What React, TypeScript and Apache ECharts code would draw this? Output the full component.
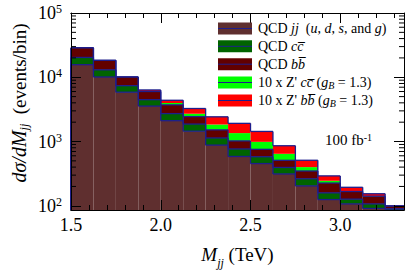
import React, { useEffect, useRef } from 'react';
import * as echarts from 'echarts';

// ---- data ----
const binEdges = [1.5, 1.625, 1.75, 1.875, 2.0, 2.125, 2.25, 2.375, 2.5, 2.625, 2.75, 2.875, 3.0, 3.125, 3.25, 3.375];
const qcdJJ = [15700, 10100, 5860, 3560, 2110, 1450, 880, 586, 454, 313, 204, 125, 107, 91, 84];
const qcdCC = [4650, 2950, 1540, 920, 610, 420, 257, 180, 126, 82, 59, 34, 20, 16, 6];
const qcdBB = [8500, 5270, 2730, 1525, 1000, 575, 382, 257, 176, 115, 85, 67, 40, 34, 9];
const zpCC = [0, 0, 0, 80, 270, 270, 315, 330, 233, 134, 52, 19, 3, 1, 0];
const zpBB = [0, 0, 0, 265, 395, 550, 590, 565, 447, 216, 111, 47, 24, 12, 1];
const yMinorTicks = [200, 300, 400, 500, 600, 700, 800, 900, 2000, 3000, 4000, 5000, 6000, 7000, 8000, 9000, 20000, 30000, 40000, 50000, 60000, 70000, 80000, 90000];

const X_MIN = 1.5;
const X_MAX = 3.355;
const Y_MIN = 86;
const Y_MAX = 100000;

const FONT = 'Liberation Serif';
const NAVY = '#1e1e8c';
const COLORS = ['#5f2f2f', '#006400', '#620000', '#00ff00', '#ff0000'];

const cumulative = (i: number) => {
  const v = [qcdJJ[i], qcdCC[i], qcdBB[i], zpCC[i], zpBB[i]];
  const out: number[] = [];
  let s = 0;
  for (const x of v) { s += x; out.push(s); }
  return out;
};

export default function App() {
  const ref = useRef<HTMLDivElement>(null);
  useEffect(() => {
    if (!ref.current) return;
    const chart = echarts.init(ref.current, null, { renderer: 'svg' });

    const histData = qcdJJ.map((_, i) => [binEdges[i], binEdges[i + 1], qcdJJ[i], qcdCC[i], qcdBB[i], zpCC[i], zpBB[i]]);

    const renderHist = (params: any, api: any) => {
      const i = params.dataIndex;
      const lo = api.value(0);
      const hi = Math.min(api.value(1), X_MAX);
      const vals = [api.value(2), api.value(3), api.value(4), api.value(5), api.value(6)];
      const cum: number[] = [];
      let s = 0;
      for (const v of vals) { s += v; cum.push(s); }
      const yp = (v: number) => api.coord([lo, Math.max(v, Y_MIN)])[1];
      const x0 = api.coord([lo, Y_MIN])[0];
      const x1 = api.coord([hi, Y_MIN])[0];
      const children: any[] = [];
      let prev = Y_MIN;
      cum.forEach((c, k) => {
        const yTop = yp(c);
        const yBot = yp(prev);
        if (yBot - yTop > 0.05) {
          children.push({
            type: 'rect',
            shape: { x: x0, y: yTop, width: x1 - x0, height: yBot - yTop },
            style: { fill: COLORS[k] },
          });
        }
        prev = c;
      });
      const prevCum = i > 0 ? cumulative(i - 1) : [Y_MIN, Y_MIN, Y_MIN, Y_MIN, Y_MIN];
      [0, 1, 2, 4].forEach((k) => {
        const y = yp(cum[k]);
        children.push({
          type: 'line',
          shape: { x1: x0, y1: y, x2: x1, y2: y },
          style: { stroke: NAVY, lineWidth: 1.3 },
        });
        const yPrev = yp(prevCum[k]);
        children.push({
          type: 'line',
          shape: { x1: x0, y1: yPrev, x2: x0, y2: y },
          style: { stroke: NAVY, lineWidth: 1.3 },
        });
      });
      return { type: 'group', children };
    };

    const renderMinor = (params: any, api: any) => {
      const cs = params.coordSys;
      const y = api.coord([X_MIN, api.value(1)])[1];
      return {
        type: 'group',
        children: [
          { type: 'line', shape: { x1: cs.x, y1: y, x2: cs.x + 5, y2: y }, style: { stroke: '#000', lineWidth: 1 } },
          { type: 'line', shape: { x1: cs.x + cs.width - 5, y1: y, x2: cs.x + cs.width, y2: y }, style: { stroke: '#000', lineWidth: 1 } },
        ],
      };
    };

    const isHalf = (v: number) => Math.abs(v * 2 - Math.round(v * 2)) < 1e-6;
    const isPow10 = (v: number) => {
      const e = Math.round(Math.log10(v));
      return Math.abs(v - Math.pow(10, e)) < 1e-6 * v ? e : null;
    };

    const baseX = {
      type: 'value', min: X_MIN, max: X_MAX, z: 10,
      axisLine: { show: true, lineStyle: { color: '#000', width: 1 } },
      splitLine: { show: false },
    };
    const baseY = {
      type: 'log', logBase: 10, min: Y_MIN, max: Y_MAX, z: 10,
      axisLine: { show: true, lineStyle: { color: '#000', width: 1 } },
      splitLine: { show: false },
    };

    const legendRows = [
      '{r|QCD }{i|jj}{r|  (}{i|u}{r|, }{i|d}{r|, }{i|s}{r|, and }{i|g}{r|)}',
      '{r|QCD }{i|cc\u0305}',
      '{r|QCD }{i|bb\u0305}',
      "{r|10 x Z' }{i|cc\u0305}{r| (}{i|g}{sub|B}{r| = 1.3)}",
      "{r|10 x Z' }{i|bb\u0305}{r| (}{i|g}{sub|B}{r| = 1.3)}",
    ];
    const legendRich = {
      r: { fontFamily: FONT, fontSize: 14, color: '#000', lineHeight: 16 },
      i: { fontFamily: FONT, fontSize: 14, fontStyle: 'italic', color: '#000', lineHeight: 16 },
      sub: { fontFamily: FONT, fontSize: 10, fontStyle: 'italic', color: '#000', verticalAlign: 'bottom', lineHeight: 10 },
    };
    const rowY = [28.5, 46.3, 64.2, 82.5, 100.5];
    const legendGraphics: any[] = [];
    rowY.forEach((y, k) => {
      legendGraphics.push({
        type: 'rect', shape: { x: 218, y: y - 6, width: 34, height: 12 },
        style: { fill: COLORS[k] }, z: 20,
      });
      legendGraphics.push({
        type: 'line', shape: { x1: 218, y1: y, x2: 252, y2: y },
        style: { stroke: NAVY, lineWidth: 1 }, z: 21,
      });
      legendGraphics.push({
        type: 'text', x: 258, y, z: 21,
        style: { text: legendRows[k], rich: legendRich, verticalAlign: 'middle', align: 'left', fontFamily: FONT },
      });
    });

    chart.setOption({
      animation: false,
      textStyle: { fontFamily: FONT },
      grid: { left: 71, top: 13, right: 11, bottom: 59, containLabel: false },
      xAxis: [
        {
          ...baseX, position: 'bottom', interval: 0.5,
          axisTick: { show: true, inside: true, length: 10, lineStyle: { color: '#000' } },
          axisLabel: {
            show: true, margin: 6, color: '#000', fontFamily: FONT, fontSize: 18,
            formatter: (v: number) => (isHalf(v) ? v.toFixed(1) : ''),
          },
          name: '{i|M}{sub|jj}{r| (TeV)}',
          nameLocation: 'middle', nameGap: 33,
          nameTextStyle: {
            fontFamily: FONT,
            rich: {
              i: { fontFamily: FONT, fontSize: 19, fontStyle: 'italic', color: '#000', lineHeight: 22 },
              sub: { fontFamily: FONT, fontSize: 12, fontStyle: 'italic', color: '#000', verticalAlign: 'bottom', lineHeight: 12, padding: [0, 0, -4, 0] },
              r: { fontFamily: FONT, fontSize: 19, color: '#000', lineHeight: 22 },
            },
          },
        },
        {
          ...baseX, position: 'bottom', interval: 0.1,
          axisTick: { show: true, inside: true, length: 5, lineStyle: { color: '#000' } },
          axisLabel: { show: false },
        },
        {
          ...baseX, position: 'top', interval: 0.5,
          axisTick: { show: true, inside: true, length: 10, lineStyle: { color: '#000' } },
          axisLabel: { show: false },
        },
        {
          ...baseX, position: 'top', interval: 0.1,
          axisTick: { show: true, inside: true, length: 5, lineStyle: { color: '#000' } },
          axisLabel: { show: false },
        },
      ],
      yAxis: [
        {
          ...baseY, position: 'left',
          axisTick: { show: true, inside: true, length: 10, lineStyle: { color: '#000' } },
          axisLabel: {
            show: true, margin: 9, color: '#000', fontFamily: FONT,
            formatter: (v: number) => {
              const e = isPow10(v);
              return e === null ? '' : `{b|10}{s|${e}}`;
            },
            rich: {
              b: { fontFamily: FONT, fontSize: 18, color: '#000', lineHeight: 20 },
              s: { fontFamily: FONT, fontSize: 12, color: '#000', verticalAlign: 'top', lineHeight: 12, padding: [0, 0, 6, 0] },
            },
          },
        },
        {
          ...baseY, position: 'right',
          axisTick: { show: true, inside: true, length: 10, lineStyle: { color: '#000' } },
          axisLabel: { show: false },
        },
      ],
      series: [
        {
          type: 'custom', name: 'hist', xAxisIndex: 0, yAxisIndex: 0, clip: false,
          data: histData, renderItem: renderHist, z: 2,
          encode: { x: [0, 1], y: [2] },
        },
        {
          type: 'custom', name: 'minorY', xAxisIndex: 0, yAxisIndex: 0, clip: false,
          data: yMinorTicks.map((v) => [X_MIN, v]), renderItem: renderMinor, z: 5,
          encode: { x: 0, y: 1 },
        },
      ],
      graphic: [
        ...legendGraphics,
        {
          type: 'text', x: 325, y: 140, z: 21,
          style: {
            text: '{r|100 fb}{s|-1}',
            fontFamily: FONT,
            rich: {
              r: { fontFamily: FONT, fontSize: 15, color: '#000', lineHeight: 16 },
              s: { fontFamily: FONT, fontSize: 10, color: '#000', verticalAlign: 'top', lineHeight: 10 },
            },
            verticalAlign: 'middle', align: 'left',
          },
        },
        {
          type: 'text', x: 19, y: 103, rotation: Math.PI / 2, z: 21,
          style: {
            text: '{i|d\u03c3/dM}{sub|jj}{r|  (events/bin)}',
            fontFamily: FONT,
            rich: {
              i: { fontFamily: FONT, fontSize: 20, fontStyle: 'italic', color: '#000', lineHeight: 22 },
              sub: { fontFamily: FONT, fontSize: 12, fontStyle: 'italic', color: '#000', verticalAlign: 'bottom', lineHeight: 12 },
              r: { fontFamily: FONT, fontSize: 19, color: '#000', lineHeight: 22 },
            },
            align: 'center', verticalAlign: 'middle',
          },
        },
      ],
    });
    return () => chart.dispose();
  }, []);
  return <div ref={ref} style={{ position: 'fixed', left: 0, top: 0, width: 415, height: 274, background: '#fff' }} />;
}
